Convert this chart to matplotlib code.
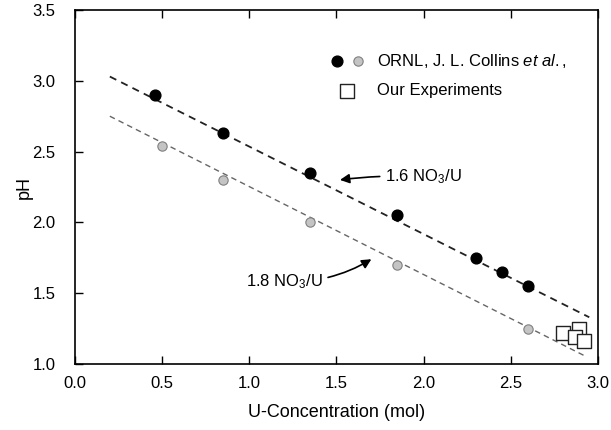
import matplotlib.pyplot as plt
from matplotlib.legend_handler import HandlerTuple

plt.rcParams["font.family"] = ["Liberation Sans", "DejaVu Sans"]
plt.rcParams["mathtext.fontset"] = "custom"
plt.rcParams["mathtext.rm"] = "Liberation Sans"
plt.rcParams["mathtext.it"] = "Liberation Sans:italic"

# ORNL data, 1.6 NO3/U
ornl16_x = [0.46, 0.85, 1.35, 1.85, 2.30, 2.45, 2.60]
ornl16_y = [2.90, 2.63, 2.35, 2.05, 1.75, 1.65, 1.55]
# ORNL data, 1.8 NO3/U
ornl18_x = [0.50, 0.85, 1.35, 1.85, 2.60]
ornl18_y = [2.54, 2.30, 2.00, 1.70, 1.25]
# our experiments
ours_x = [2.80, 2.89, 2.87, 2.92]
ours_y = [1.22, 1.25, 1.19, 1.16]
# fit lines (end points)
fit16_x = [0.20, 2.95]
fit16_y = [3.03, 1.33]
fit18_x = [0.20, 2.92]
fit18_y = [2.75, 1.06]

x_ticks = [0.0, 0.5, 1.0, 1.5, 2.0, 2.5, 3.0]
y_ticks = [1.0, 1.5, 2.0, 2.5, 3.0, 3.5]

fig = plt.figure(figsize=(6.11, 4.30), dpi=100)
ax = fig.add_axes([0.1227, 0.1535, 0.856, 0.8232])

ax.plot(fit16_x, fit16_y, color="#222222", linestyle=(0, (4, 3)), linewidth=1.3)
ax.plot(fit18_x, fit18_y, color="#666666", linestyle=(0, (4, 3)), linewidth=1.0)

black = ax.scatter(ornl16_x, ornl16_y, s=60, color="black", zorder=3)
gray = ax.scatter(ornl18_x, ornl18_y, s=45, facecolor="#c4c4c4",
                  edgecolor="#808080", linewidth=0.8, zorder=3)
ours = ax.scatter(ours_x, ours_y, s=90, marker="s", facecolor="white",
                  edgecolor="#222222", linewidth=1.0, zorder=4)

ax.annotate(r"1.6 NO$_3$/U", xy=(1.52, 2.30), xytext=(1.78, 2.32),
            fontsize=12, va="center", ha="left",
            arrowprops=dict(arrowstyle="-|>", color="black", lw=1.2,
                            connectionstyle="arc3,rad=0.05", shrinkA=2, shrinkB=0,
                            mutation_scale=14))
ax.annotate(r"1.8 NO$_3$/U", xy=(1.70, 1.74), xytext=(1.42, 1.58),
            fontsize=12, va="center", ha="right",
            arrowprops=dict(arrowstyle="-|>", color="black", lw=1.2,
                            connectionstyle="arc3,rad=0.15", shrinkA=2, shrinkB=0,
                            mutation_scale=14))

ax.legend([(black, gray), ours],
          [r"ORNL, J. L. Collins $\it{et\ al.}$,", "Our Experiments"],
          handler_map={tuple: HandlerTuple(ndivide=None, pad=0.5)},
          loc="upper left", bbox_to_anchor=(0.46, 0.925), frameon=False,
          fontsize=12, handlelength=2.0, handletextpad=0.8, labelspacing=0.8)

ax.set_xlim(0, 3.0)
ax.set_ylim(1.0, 3.5)
ax.set_xticks(x_ticks)
ax.set_yticks(y_ticks)
ax.set_xticklabels([f"{v:.1f}" for v in x_ticks])
ax.set_yticklabels([f"{v:.1f}" for v in y_ticks])
ax.tick_params(direction="in", top=True, right=False, length=6, width=1,
               labelsize=12)
ax.tick_params(axis="y", pad=14)
ax.tick_params(axis="x", pad=9)
for spine in ax.spines.values():
    spine.set_linewidth(1.2)

ax.set_xlabel("U-Concentration (mol)", fontsize=13, labelpad=9)
ax.set_ylabel("pH", fontsize=13, labelpad=0)

fig.savefig("out.png", dpi=100)
